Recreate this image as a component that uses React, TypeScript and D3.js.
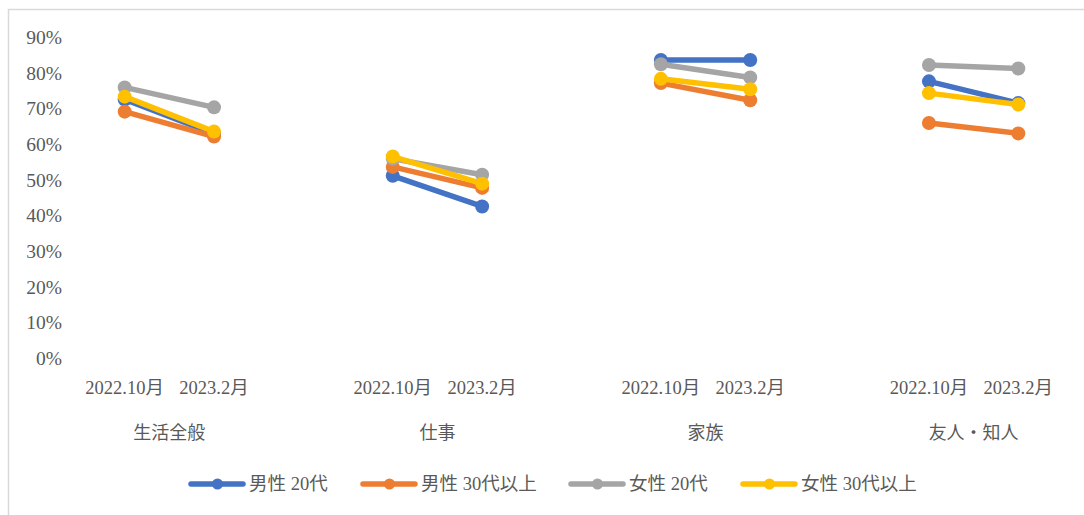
import React from "react";
import * as d3 from "d3";

const groups = ["生活全般", "仕事", "家族", "友人・知人"];
const periods = ["2022.10月", "2023.2月"];
const seriesNames = ["男性 20代", "男性 30代以上", "女性 20代", "女性 30代以上"];
const seriesColors = ["#4472C4", "#ED7D31", "#A5A5A5", "#FFC000"];
const male20 = [72.6, 63.0, 51.2, 42.6, 83.7, 83.7, 77.7, 71.6];
const male30 = [69.2, 62.2, 53.7, 47.8, 77.2, 72.4, 66.0, 63.1];
const female20 = [76.0, 70.4, 56.0, 51.5, 82.5, 78.8, 82.3, 81.3];
const female30 = [73.4, 63.6, 56.6, 49.0, 78.4, 75.5, 74.4, 71.2];
const yTicks = [0, 10, 20, 30, 40, 50, 60, 70, 80, 90];

const seriesValues = [male20, male30, female20, female30];

const W = 1084;
const H = 515;
const plotLeft = 80;
const plotRight = 1063;
const font = "'Liberation Serif', 'DejaVu Serif', 'Noto Sans CJK JP', serif";
const textColor = "#595959";

export default function App() {
  const slots = d3.range(groups.length * 3 - 1);
  const x = d3.scaleBand<number>().domain(slots).range([plotLeft, plotRight]).padding(0);
  const cx = (gi: number, pi: number) => (x(gi * 3 + pi) as number) + x.bandwidth() / 2;
  const y = d3.scaleLinear().domain([0, 90]).range([358.3, 37.5]);
  const line = d3
    .line<{ gi: number; pi: number; v: number }>()
    .x((d) => cx(d.gi, d.pi))
    .y((d) => y(d.v));

  const legendStarts = [189, 361, 569, 741];

  return (
    <svg
      width={W}
      height={H}
      style={{ position: "absolute", left: 0, top: 0, background: "#fff" }}
      fontFamily={font}
    >
      <rect x={8.5} y={9.5} width={1200} height={600} fill="#fff" stroke="#D9D9D9" strokeWidth={1.5} />
      {yTicks.map((t) => (
        <text
          key={t}
          x={62}
          y={y(t)}
          textAnchor="end"
          dominantBaseline="central"
          fontSize={19.5}
          fill={textColor}
        >
          {t}%
        </text>
      ))}
      {groups.map((g, gi) => (
        <g key={g}>
          {periods.map((p, pi) => (
            <text
              key={p}
              x={cx(gi, pi)}
              y={388}
              textAnchor="middle"
              dominantBaseline="central"
              fontSize={18.5}
              fill={textColor}
            >
              {p}
            </text>
          ))}
          <text
            x={(cx(gi, 0) + cx(gi, 1)) / 2}
            y={433}
            textAnchor="middle"
            dominantBaseline="central"
            fontSize={18}
            fill={textColor}
          >
            {g}
          </text>
        </g>
      ))}
      {seriesValues.map((vals, si) => (
        <g key={si}>
          {groups.map((g, gi) => {
            const pts = periods.map((p, pi) => ({ gi, pi, v: vals[gi * 2 + pi] }));
            return (
              <g key={g}>
                <path
                  d={line(pts) || ""}
                  fill="none"
                  stroke={seriesColors[si]}
                  strokeWidth={5.5}
                  strokeLinecap="round"
                />
                {pts.map((d) => (
                  <circle key={d.pi} cx={cx(d.gi, d.pi)} cy={y(d.v)} r={7} fill={seriesColors[si]} />
                ))}
              </g>
            );
          })}
        </g>
      ))}
      {seriesNames.map((n, si) => (
        <g key={n} transform={`translate(${legendStarts[si]},484)`}>
          <line x1={2} x2={54} y1={0} y2={0} stroke={seriesColors[si]} strokeWidth={5.5} strokeLinecap="round" />
          <circle cx={28.5} cy={0} r={5.5} fill={seriesColors[si]} />
          <text x={60} y={0} dominantBaseline="central" fontSize={18.5} fill={textColor}>
            {n}
          </text>
        </g>
      ))}
    </svg>
  );
}
